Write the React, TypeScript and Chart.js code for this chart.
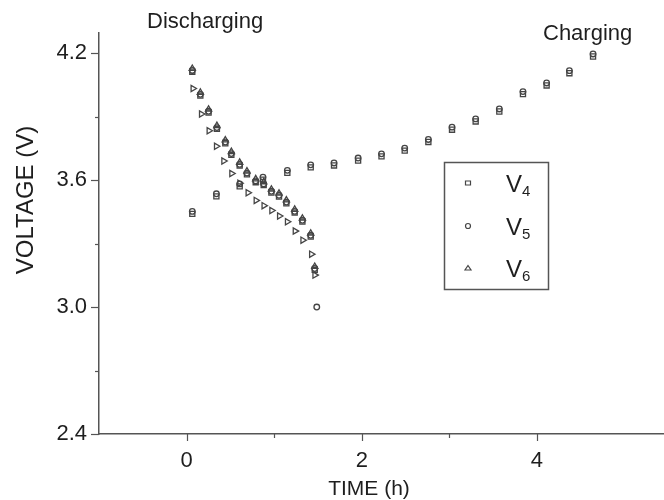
import React, { useEffect, useRef } from 'react';
import { Chart, registerables } from 'chart.js';

Chart.register(...registerables);

// Charging (h, V)
const chargeTime = [0.065, 0.34, 0.606, 0.872, 1.15, 1.417, 1.683, 1.958, 2.225, 2.49, 2.76, 3.03, 3.3, 3.57, 3.84, 4.11, 4.37, 4.64];
const chargeV4 = [3.44, 3.523, 3.57, 3.602, 3.634, 3.66, 3.669, 3.692, 3.712, 3.739, 3.78, 3.838, 3.877, 3.924, 4.006, 4.047, 4.105, 4.184];
const chargeV5 = [3.452, 3.535, 3.582, 3.614, 3.646, 3.672, 3.681, 3.704, 3.724, 3.751, 3.792, 3.85, 3.889, 3.936, 4.018, 4.059, 4.117, 4.196];

// Discharging, upper branch (h, V)
const dischargeTime = [0.065, 0.157, 0.251, 0.346, 0.442, 0.511, 0.606, 0.689, 0.789, 0.88, 0.968, 1.055, 1.139, 1.234, 1.322, 1.417, 1.463];
const dischargeV4 = [4.112, 3.999, 3.919, 3.842, 3.774, 3.719, 3.668, 3.627, 3.59, 3.576, 3.541, 3.522, 3.49, 3.446, 3.404, 3.333, 3.176];
const dischargeV5 = [4.118, 4.005, 3.925, 3.848, 3.78, 3.725, 3.674, 3.633, 3.596, 3.582, 3.547, 3.528, 3.496, 3.452, 3.41, 3.339, 3.182];
const dischargeV6 = [4.127, 4.014, 3.934, 3.857, 3.789, 3.734, 3.683, 3.642, 3.605, 3.591, 3.556, 3.537, 3.505, 3.461, 3.419, 3.348, 3.191];
const dischargeEndTime = [1.486];
const dischargeEndV5 = [3.0];

// Discharging, lower branch (right-pointing triangles)
const lowerTime = [0.072, 0.168, 0.255, 0.339, 0.423, 0.514, 0.606, 0.7, 0.792, 0.882, 0.971, 1.059, 1.149, 1.238, 1.326, 1.425, 1.463];
const lowerV = [4.033, 3.912, 3.833, 3.76, 3.69, 3.631, 3.585, 3.54, 3.504, 3.479, 3.456, 3.43, 3.403, 3.359, 3.316, 3.25, 3.151];

const xTicks = [0, 1, 2, 3, 4];
const xLabeled = [0, 2, 4];
const yTicks = [2.4, 2.7, 3.0, 3.3, 3.6, 3.9, 4.2];
const yLabeled = [2.4, 3.0, 3.6, 4.2];
const seriesLabels = ['V4', 'V5', 'V6'];
const seriesStyles = ['rect', 'circle', 'triangle'];

const FONT = '"Liberation Sans", Arial, sans-serif';
const INK = '#1e1e1e';
const AXIS = '#555555';
const MARK = '#454545';

const pts = (xs: number[], ys: number[]) => xs.map((x, i) => ({ x, y: ys[i] }));
const isIn = (arr: number[], v: number) => arr.some((a) => Math.abs(a - v) < 1e-6);

const decorPlugin = {
  id: 'decor',
  afterDraw(chart: any) {
    const ctx = chart.ctx;
    const xs = chart.scales.x;
    const ys = chart.scales.y;
    const area = chart.chartArea;
    ctx.save();
    // tick marks
    ctx.strokeStyle = AXIS;
    ctx.lineWidth = 1.2;
    xTicks.forEach((v) => {
      const px = Math.round(xs.getPixelForValue(v)) + 0.5;
      const len = isIn(xLabeled, v) ? 7 : 4;
      ctx.beginPath();
      ctx.moveTo(px, area.bottom);
      ctx.lineTo(px, area.bottom + len);
      ctx.stroke();
    });
    yTicks.forEach((v) => {
      const py = Math.round(ys.getPixelForValue(v)) + 0.5;
      const len = isIn(yLabeled, v) ? 8 : 4;
      ctx.beginPath();
      ctx.moveTo(area.left, py);
      ctx.lineTo(area.left - len, py);
      ctx.stroke();
    });

    // annotations and titles
    ctx.fillStyle = INK;
    ctx.font = `22px ${FONT}`;
    ctx.textBaseline = 'middle';
    ctx.textAlign = 'left';
    ctx.fillText('Discharging', 147, 22);
    ctx.fillText('Charging', 543, 34);
    ctx.textAlign = 'center';
    ctx.font = `21px ${FONT}`;
    ctx.fillText('TIME (h)', 369, 489);
    ctx.save();
    ctx.translate(26, 200);
    ctx.rotate(-Math.PI / 2);
    ctx.font = `24px ${FONT}`;
    ctx.fillText('VOLTAGE (V)', 0, 0);
    ctx.restore();

    // legend box
    ctx.strokeStyle = AXIS;
    ctx.lineWidth = 1.5;
    ctx.strokeRect(444.5, 162.5, 104, 127);
    const rows = [183, 226, 268];
    seriesLabels.forEach((lab, i) => {
      const y = rows[i];
      const mx = 468;
      ctx.strokeStyle = MARK;
      ctx.lineWidth = 1.2;
      ctx.beginPath();
      if (seriesStyles[i] === 'rect') {
        ctx.rect(mx - 2.5, y - 2, 5, 4);
      } else if (seriesStyles[i] === 'circle') {
        ctx.arc(mx, y, 2.5, 0, Math.PI * 2);
      } else {
        ctx.moveTo(mx, y - 2.5);
        ctx.lineTo(mx + 3, y + 2);
        ctx.lineTo(mx - 3, y + 2);
        ctx.closePath();
      }
      ctx.stroke();
      ctx.fillStyle = INK;
      ctx.textAlign = 'left';
      ctx.textBaseline = 'alphabetic';
      ctx.font = `24px ${FONT}`;
      ctx.fillText(lab.charAt(0), 506, y + 9);
      ctx.font = `15px ${FONT}`;
      ctx.fillText(lab.slice(1), 522, y + 13);
    });
    ctx.restore();
  },
};

const common = {
  showLine: false,
  pointBorderColor: MARK,
  pointBackgroundColor: 'rgba(255,255,255,0)',
  pointBorderWidth: 1.3,
};

export default function App() {
  const ref = useRef<HTMLCanvasElement | null>(null);
  useEffect(() => {
    if (!ref.current) return;
    const chart = new Chart(ref.current, {
      type: 'scatter',
      data: {
        datasets: [
          { ...common, label: seriesLabels[0], data: [...pts(chargeTime, chargeV4), ...pts(dischargeTime, dischargeV4)], pointStyle: 'rect', pointRadius: 3.6 },
          { ...common, label: seriesLabels[1], data: [...pts(chargeTime, chargeV5), ...pts(dischargeTime, dischargeV5), ...pts(dischargeEndTime, dischargeEndV5)], pointStyle: 'circle', pointRadius: 2.8 },
          { ...common, label: seriesLabels[2], data: pts(dischargeTime, dischargeV6), pointStyle: 'triangle', pointRadius: 3.6 },
          { ...common, label: 'V6 (discharge)', data: pts(lowerTime, lowerV), pointStyle: 'triangle', pointRadius: 3.6, pointRotation: 90 },
        ],
      },
      options: {
        animation: false,
        responsive: false,
        maintainAspectRatio: false,
        layout: { autoPadding: false, padding: { top: 33, right: 0, left: 0, bottom: 0 } },
        plugins: { legend: { display: false }, tooltip: { enabled: false } },
        scales: {
          x: {
            type: 'linear',
            min: -1.0,
            max: 5.45,
            grid: { display: false, drawTicks: false },
            border: { display: true, color: AXIS, width: 1.5 },
            afterBuildTicks: (s: any) => { s.ticks = xTicks.map((v) => ({ value: v })); },
            afterFit: (s: any) => { s.height = 66; },
            ticks: {
              autoSkip: false,
              maxRotation: 0,
              padding: 14,
              color: INK,
              font: { family: FONT, size: 22 },
              callback: (v: any) => (isIn(xLabeled, Number(v)) ? String(v) : ''),
            },
          },
          y: {
            type: 'linear',
            min: 2.4,
            max: 4.295,
            grid: { display: false, drawTicks: false },
            border: { display: true, color: AXIS, width: 1.5 },
            afterBuildTicks: (s: any) => { s.ticks = yTicks.map((v) => ({ value: v })); },
            afterFit: (s: any) => { s.width = 99; },
            ticks: {
              autoSkip: false,
              padding: 12,
              color: INK,
              font: { family: FONT, size: 22 },
              callback: (v: any) => (isIn(yLabeled, Number(v)) ? Number(v).toFixed(1) : ''),
            },
          },
        },
      },
      plugins: [decorPlugin],
    } as any);
    return () => chart.destroy();
  }, []);
  return (
    <div style={{ position: 'absolute', left: 0, top: 0, width: 664, height: 500, background: '#fff' }}>
      <canvas ref={ref} width={664} height={500} style={{ width: 664, height: 500 }} />
    </div>
  );
}
